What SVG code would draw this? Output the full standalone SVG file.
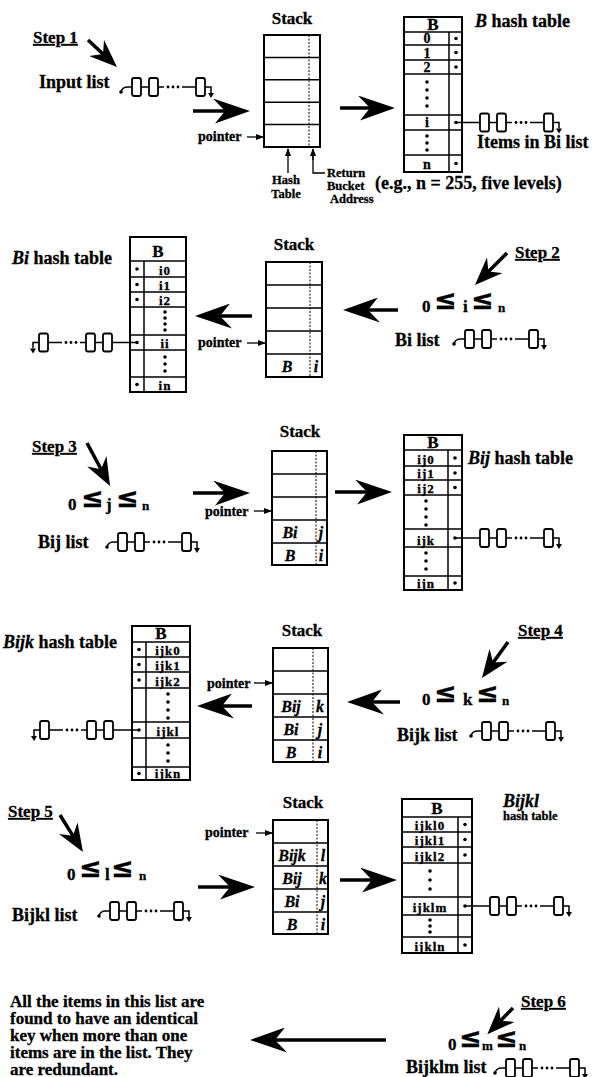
<svg xmlns="http://www.w3.org/2000/svg" xmlns:xlink="http://www.w3.org/1999/xlink" width="593" height="1077" viewBox="0 0 593 1077">
<style>
  text { font-family: "Liberation Serif", "Times New Roman", serif; font-weight: bold; fill: #000; stroke: #000; stroke-width: 0.3px; }
  .lbl { font-size: 18px; }
  .step { font-size: 17px; text-decoration: underline; }
  .ttl { font-size: 17px; text-anchor: middle; }
  .ptr { font-size: 14px; }
  .sm { font-size: 12.5px; }
  .hdr { font-size: 17px; text-anchor: middle; }
  .cell { font-size: 14px; text-anchor: middle; }
  .cellw { font-size: 13px; text-anchor: middle; letter-spacing: 1px; }
  .stk { font-size: 16px; font-style: italic; text-anchor: middle; }
  .it { font-style: italic; }
  .d { font-size: 17px; }
  .le { font-family: "DejaVu Sans", sans-serif; font-size: 27px; }
  .v { font-size: 17px; }
  .n { font-size: 13px; }
  .note { font-size: 17px; }
  .frame { fill: #fff; stroke: #000; stroke-width: 2; }
  .grid { fill: none; stroke: #000; stroke-width: 1.5; }
  .dash { fill: none; stroke: #000; stroke-width: 1; stroke-dasharray: 2 1.5; }
  .box { fill: #fff; stroke: #000; stroke-width: 1.8; }
  .ln { fill: none; stroke: #000; stroke-width: 1.5; }
  .shaft { fill: none; stroke: #000; stroke-width: 3.5; }
  .tiny { fill: none; stroke: #000; stroke-width: 1.3; }
  .blk { fill: #000; }
</style>
<defs>
  <marker id="big" viewBox="0 0 37 25" refX="30" refY="12.5" markerWidth="37" markerHeight="25" markerUnits="userSpaceOnUse" orient="auto">
    <path d="M37,12.5 L0,0 L12,12.5 L2,25 Z" fill="#000"/>
  </marker>
  <marker id="stepHead" viewBox="0 0 28 22" refX="22" refY="11" markerWidth="28" markerHeight="22" markerUnits="userSpaceOnUse" orient="auto">
    <path d="M28,11 L0,0 L9,11 L0,22 Z" fill="#000"/>
  </marker>
  <marker id="sm" viewBox="0 0 8 6" refX="7" refY="3" markerWidth="8" markerHeight="6" markerUnits="userSpaceOnUse" orient="auto">
    <path d="M0,0 L8,3 L0,6 Z" fill="#000"/>
  </marker>
  <!-- linked list: three nodes with an ellipsis, terminated by a ground arrow -->
  <g id="chain">
    <path class="ln" d="M9,0 H17 M26,0 H32 M50,0 H64 M73,0 H79 V6"/>
    <rect class="box" x="0" y="-9" width="9" height="18" rx="2"/>
    <rect class="box" x="17" y="-9" width="9" height="18" rx="2"/>
    <rect class="box" x="64" y="-9" width="9" height="18" rx="2"/>
    <circle class="blk" cx="36" cy="0" r="1.4"/>
    <circle class="blk" cx="41" cy="0" r="1.4"/>
    <circle class="blk" cx="46" cy="0" r="1.4"/>
    <path class="blk" d="M76,6 L82,6 L79,11 Z"/>
  </g>
  <!-- list head pointer hook -->
  <g id="inlist">
    <path class="ln" d="M-11,5 Q-10,0 -4,0 H0"/>
    <circle class="blk" cx="-11" cy="5" r="1.8"/>
    <use xlink:href="#chain"/>
  </g>
</defs>

<!-- ===== connectors ===== -->
<g id="connectors">
  <!-- step arrows -->
  <line class="shaft" x1="88" y1="40" x2="112.6" y2="62.9" marker-end="url(#stepHead)"/>
  <line class="shaft" x1="507" y1="253" x2="479.2" y2="280.8" marker-end="url(#stepHead)"/>
  <line class="shaft" x1="87" y1="443" x2="107.2" y2="480.7" marker-end="url(#stepHead)"/>
  <line class="shaft" x1="508" y1="642" x2="485.5" y2="673.1" marker-end="url(#stepHead)"/>
  <line class="shaft" x1="60" y1="815" x2="79.8" y2="846.9" marker-end="url(#stepHead)"/>
  <line class="shaft" x1="513" y1="1008" x2="491.5" y2="1030" marker-end="url(#stepHead)"/>
  <!-- flow arrows -->
  <line class="shaft" x1="193" y1="111" x2="243" y2="111" marker-end="url(#big)"/>
  <line class="shaft" x1="340" y1="108" x2="388" y2="108" marker-end="url(#big)"/>
  <line class="shaft" x1="398" y1="310" x2="350" y2="310" marker-end="url(#big)"/>
  <line class="shaft" x1="252" y1="316" x2="202" y2="316" marker-end="url(#big)"/>
  <line class="shaft" x1="193" y1="493" x2="243" y2="493" marker-end="url(#big)"/>
  <line class="shaft" x1="335" y1="492" x2="385" y2="492" marker-end="url(#big)"/>
  <line class="shaft" x1="400" y1="702" x2="354" y2="702" marker-end="url(#big)"/>
  <line class="shaft" x1="252" y1="706" x2="204" y2="706" marker-end="url(#big)"/>
  <line class="shaft" x1="198" y1="887" x2="248" y2="887" marker-end="url(#big)"/>
  <line class="shaft" x1="340" y1="880" x2="390" y2="880" marker-end="url(#big)"/>
  <line class="shaft" x1="386" y1="1040" x2="257" y2="1040" marker-end="url(#big)"/>
  <!-- stack pointers -->
  <line class="tiny" x1="247" y1="137" x2="263" y2="137" marker-end="url(#sm)"/>
  <line class="tiny" x1="247" y1="343" x2="265" y2="343" marker-end="url(#sm)"/>
  <line class="tiny" x1="254" y1="511" x2="271" y2="511" marker-end="url(#sm)"/>
  <line class="tiny" x1="254" y1="683" x2="272" y2="683" marker-end="url(#sm)"/>
  <line class="tiny" x1="256" y1="833" x2="272" y2="833" marker-end="url(#sm)"/>
  <!-- hash table / return bucket address indicators -->
  <line class="tiny" x1="288" y1="173" x2="288" y2="149" marker-end="url(#sm)"/>
  <path class="tiny" d="M325,173 H313 V150"/>
  <line class="tiny" x1="313" y1="160" x2="313" y2="149" marker-end="url(#sm)"/>
</g>

<!-- ===== Step 1 ===== -->
<g id="step1">
  <text class="step" x="33" y="43">Step 1</text>
  <text class="lbl" x="39" y="88">Input list</text>
  <use xlink:href="#inlist" x="132" y="87"/>
  <text class="ptr" x="198" y="141">pointer</text>
  <text class="sm" x="286" y="184" text-anchor="middle">Hash</text>
  <text class="sm" x="286" y="198" text-anchor="middle">Table</text>
  <text class="sm" x="327" y="177">Return</text>
  <text class="sm" x="327" y="190">Bucket</text>
  <text class="sm" x="330" y="203">Address</text>
  <text class="lbl" x="375" y="189">(e.g., n = 255, five levels)</text>
</g>
<g id="stack1">
  <text class="ttl" x="292" y="24">Stack</text>
  <rect class="frame" x="264" y="35" width="56" height="112"/>
  <path class="grid" d="M264,57.4H320 M264,79.8H320 M264,102.2H320 M264,124.6H320"/>
  <line class="dash" x1="309" y1="35" x2="309" y2="147"/>
</g>
<g id="table-b">
  <rect class="frame" x="404" y="17" width="58" height="155"/>
  <path class="grid" d="M404,32H462 M404,45H462 M404,60H462 M404,74H462 M404,115H462 M404,130H462 M404,155H462 M449,32V172"/>
  <text class="hdr" x="433" y="30">B</text>
  <text class="cell" x="427" y="43">0</text>
  <text class="cell" x="427" y="58">1</text>
  <text class="cell" x="427" y="72">2</text>
  <text class="cell" x="427" y="127">i</text>
  <text class="cell" x="427" y="169">n</text>
  <g class="blk">
    <circle cx="456" cy="38.5" r="1.8"/><circle cx="456" cy="52.5" r="1.8"/><circle cx="456" cy="67" r="1.8"/>
    <circle cx="456" cy="122.5" r="1.8"/><circle cx="456" cy="163.5" r="1.8"/>
    <circle cx="427" cy="82" r="1.8"/><circle cx="427" cy="90" r="1.8"/><circle cx="427" cy="98" r="1.8"/><circle cx="427" cy="106" r="1.8"/>
    <circle cx="427" cy="136" r="1.8"/><circle cx="427" cy="143" r="1.8"/><circle cx="427" cy="150" r="1.8"/>
  </g>
  <text class="lbl" x="475" y="27"><tspan class="it">B</tspan> hash table</text>
  <path class="ln" d="M456,122.5 H480"/>
  <use xlink:href="#chain" x="480" y="122.5"/>
  <text class="lbl" x="477" y="148">Items in Bi list</text>
</g>

<!-- ===== Step 2 ===== -->
<g id="step2">
  <text class="step" x="515" y="258">Step 2</text>
  <text x="0" y="312"><tspan class="d" x="422">0</tspan><tspan class="le" x="434" y="309">≤</tspan><tspan class="v" x="463" y="312">i</tspan><tspan class="le" x="471" y="309">≤</tspan><tspan class="n" x="498" y="312">n</tspan></text>
  <text class="lbl" x="395" y="346">Bi list</text>
  <use xlink:href="#inlist" x="465" y="339"/>
  <text class="ptr" x="198" y="347">pointer</text>
</g>
<g id="stack2">
  <text class="ttl" x="294" y="250">Stack</text>
  <rect class="frame" x="266" y="262" width="56" height="115"/>
  <path class="grid" d="M266,285H322 M266,308H322 M266,331H322 M266,354H322"/>
  <line class="dash" x1="310" y1="262" x2="310" y2="377"/>
  <text class="stk" x="287" y="372">B</text>
  <text class="stk" x="316" y="372">i</text>
</g>
<g id="table-bi">
  <text class="lbl" x="12" y="264"><tspan class="it">Bi</tspan> hash table</text>
  <rect class="frame" x="130" y="237" width="56" height="155"/>
  <path class="grid" d="M130,261H186 M130,277H186 M130,292H186 M130,307H186 M130,335H186 M130,350H186 M130,377H186 M144,261V392"/>
  <text class="hdr" x="158" y="257">B</text>
  <text class="cellw" x="165" y="275">i0</text>
  <text class="cellw" x="165" y="290">i1</text>
  <text class="cellw" x="165" y="305">i2</text>
  <text class="cellw" x="165" y="348">ii</text>
  <text class="cellw" x="165" y="390">in</text>
  <g class="blk">
    <circle cx="137" cy="269" r="1.8"/><circle cx="137" cy="284.5" r="1.8"/><circle cx="137" cy="299.5" r="1.8"/>
    <circle cx="137" cy="342.5" r="1.8"/><circle cx="137" cy="384.5" r="1.8"/>
    <circle cx="165" cy="312" r="1.8"/><circle cx="165" cy="318" r="1.8"/><circle cx="165" cy="324" r="1.8"/><circle cx="165" cy="330" r="1.8"/>
    <circle cx="165" cy="357" r="1.8"/><circle cx="165" cy="364" r="1.8"/><circle cx="165" cy="371" r="1.8"/>
  </g>
  <path class="ln" d="M137,342.5 H112"/>
  <use xlink:href="#chain" transform="translate(112,342.5) scale(-1,1)"/>
</g>

<!-- ===== Step 3 ===== -->
<g id="step3">
  <text class="step" x="32" y="452">Step 3</text>
  <text x="0" y="510"><tspan class="d" x="68">0</tspan><tspan class="le" x="81" y="507">≤</tspan><tspan class="v" x="106" y="510">j</tspan><tspan class="le" x="116" y="507">≤</tspan><tspan class="n" x="142" y="510">n</tspan></text>
  <text class="lbl" x="38" y="548">Bij list</text>
  <use xlink:href="#inlist" x="118" y="542"/>
  <text class="ptr" x="205" y="516">pointer</text>
</g>
<g id="stack3">
  <text class="ttl" x="300" y="437">Stack</text>
  <rect class="frame" x="272" y="451" width="55" height="114"/>
  <path class="grid" d="M272,474H327 M272,497H327 M272,520H327 M272,543H327"/>
  <line class="dash" x1="316" y1="451" x2="316" y2="565"/>
  <text class="stk" x="290" y="538">Bi</text>
  <text class="stk" x="321" y="538">j</text>
  <text class="stk" x="290" y="561">B</text>
  <text class="stk" x="321" y="561">i</text>
</g>
<g id="table-bij">
  <rect class="frame" x="404" y="435" width="58" height="155"/>
  <path class="grid" d="M404,450H462 M404,466H462 M404,480H462 M404,495H462 M404,529H462 M404,547H462 M404,576H462 M448,450V590"/>
  <text class="hdr" x="433" y="448">B</text>
  <text class="cellw" x="426" y="464">ij0</text>
  <text class="cellw" x="426" y="478">ij1</text>
  <text class="cellw" x="426" y="493">ij2</text>
  <text class="cellw" x="426" y="545">ijk</text>
  <text class="cellw" x="426" y="588">ijn</text>
  <g class="blk">
    <circle cx="455" cy="458" r="1.8"/><circle cx="455" cy="473" r="1.8"/><circle cx="455" cy="487.5" r="1.8"/>
    <circle cx="455" cy="538" r="1.8"/><circle cx="455" cy="583" r="1.8"/>
    <circle cx="426" cy="501" r="1.8"/><circle cx="426" cy="509" r="1.8"/><circle cx="426" cy="517" r="1.8"/><circle cx="426" cy="525" r="1.8"/>
    <circle cx="426" cy="553" r="1.8"/><circle cx="426" cy="561" r="1.8"/><circle cx="426" cy="569" r="1.8"/>
  </g>
  <text class="lbl" x="468" y="464"><tspan class="it">Bij</tspan> hash table</text>
  <path class="ln" d="M455,538 H480"/>
  <use xlink:href="#chain" x="480" y="538"/>
</g>

<!-- ===== Step 4 ===== -->
<g id="step4">
  <text class="step" x="518" y="636">Step 4</text>
  <text x="0" y="705"><tspan class="d" x="422">0</tspan><tspan class="le" x="434" y="702">≤</tspan><tspan class="v" x="463" y="705">k</tspan><tspan class="le" x="476" y="702">≤</tspan><tspan class="n" x="502" y="705">n</tspan></text>
  <text class="lbl" x="397" y="741">Bijk list</text>
  <use xlink:href="#inlist" x="482" y="731"/>
  <text class="ptr" x="207" y="688">pointer</text>
</g>
<g id="stack4">
  <text class="ttl" x="302" y="636">Stack</text>
  <rect class="frame" x="273" y="648" width="55" height="114"/>
  <path class="grid" d="M273,671H328 M273,694H328 M273,717H328 M273,740H328"/>
  <line class="dash" x1="313" y1="648" x2="313" y2="762"/>
  <text class="stk" x="291" y="712">Bij</text>
  <text class="stk" x="320" y="712">k</text>
  <text class="stk" x="291" y="735">Bi</text>
  <text class="stk" x="320" y="735">j</text>
  <text class="stk" x="291" y="758">B</text>
  <text class="stk" x="320" y="758">i</text>
</g>
<g id="table-bijk">
  <text class="lbl" x="3" y="648"><tspan class="it">Bijk</tspan> hash table</text>
  <rect class="frame" x="132" y="626" width="58" height="154"/>
  <path class="grid" d="M132,642H190 M132,657H190 M132,672H190 M132,688H190 M132,722H190 M132,738H190 M132,767H190 M146,642V780"/>
  <text class="hdr" x="161" y="639">B</text>
  <text class="cellw" x="168" y="655">ijk0</text>
  <text class="cellw" x="168" y="670">ijk1</text>
  <text class="cellw" x="168" y="686">ijk2</text>
  <text class="cellw" x="168" y="736">ijkl</text>
  <text class="cellw" x="168" y="778">ijkn</text>
  <g class="blk">
    <circle cx="139" cy="649.5" r="1.8"/><circle cx="139" cy="664.5" r="1.8"/><circle cx="139" cy="680" r="1.8"/>
    <circle cx="139" cy="730" r="1.8"/><circle cx="139" cy="773.5" r="1.8"/>
    <circle cx="168" cy="694" r="1.8"/><circle cx="168" cy="702" r="1.8"/><circle cx="168" cy="710" r="1.8"/><circle cx="168" cy="718" r="1.8"/>
    <circle cx="168" cy="745" r="1.8"/><circle cx="168" cy="753" r="1.8"/><circle cx="168" cy="761" r="1.8"/>
  </g>
  <path class="ln" d="M139,730 H113"/>
  <use xlink:href="#chain" transform="translate(113,730) scale(-1,1)"/>
</g>

<!-- ===== Step 5 ===== -->
<g id="step5">
  <text class="step" x="8" y="817">Step 5</text>
  <text x="0" y="880"><tspan class="d" x="67">0</tspan><tspan class="le" x="79" y="877">≤</tspan><tspan class="v" x="105" y="880">l</tspan><tspan class="le" x="111" y="877">≤</tspan><tspan class="n" x="139" y="880">n</tspan></text>
  <text class="lbl" x="12" y="921">Bijkl list</text>
  <use xlink:href="#inlist" x="110" y="911"/>
  <text class="ptr" x="205" y="837">pointer</text>
</g>
<g id="stack5">
  <text class="ttl" x="303" y="808">Stack</text>
  <rect class="frame" x="273" y="820" width="55" height="114"/>
  <path class="grid" d="M273,843H328 M273,866H328 M273,889H328 M273,912H328"/>
  <line class="dash" x1="317" y1="820" x2="317" y2="934"/>
  <text class="stk" x="292" y="861">Bijk</text>
  <text class="stk" x="323" y="861">l</text>
  <text class="stk" x="292" y="884">Bij</text>
  <text class="stk" x="323" y="884">k</text>
  <text class="stk" x="292" y="907">Bi</text>
  <text class="stk" x="323" y="907">j</text>
  <text class="stk" x="292" y="930">B</text>
  <text class="stk" x="323" y="930">i</text>
</g>
<g id="table-bijkl">
  <rect class="frame" x="402" y="799" width="70" height="154"/>
  <path class="grid" d="M402,817H472 M402,832H472 M402,847H472 M402,863H472 M402,897H472 M402,915H472 M402,937H472 M458,817V953"/>
  <text class="hdr" x="437" y="814">B</text>
  <text class="cellw" x="430" y="830">ijkl0</text>
  <text class="cellw" x="430" y="845">ijkl1</text>
  <text class="cellw" x="430" y="861">ijkl2</text>
  <text class="cellw" x="430" y="912">ijklm</text>
  <text class="cellw" x="430" y="951">ijkln</text>
  <g class="blk">
    <circle cx="465" cy="824.5" r="1.8"/><circle cx="465" cy="839.5" r="1.8"/><circle cx="465" cy="855" r="1.8"/>
    <circle cx="465" cy="906" r="1.8"/><circle cx="465" cy="945" r="1.8"/>
    <circle cx="430" cy="871" r="1.8"/><circle cx="430" cy="880" r="1.8"/><circle cx="430" cy="889" r="1.8"/>
    <circle cx="430" cy="920" r="1.8"/><circle cx="430" cy="926" r="1.8"/><circle cx="430" cy="932" r="1.8"/>
  </g>
  <text class="lbl it" x="503" y="807">Bijkl</text>
  <text class="sm" x="503" y="820">hash table</text>
  <path class="ln" d="M465,906 H490"/>
  <use xlink:href="#chain" x="490" y="906"/>
</g>

<!-- ===== Step 6 ===== -->
<g id="step6">
  <text class="step" x="521" y="1007">Step 6</text>
  <text x="0" y="1050"><tspan class="d" x="448">0</tspan><tspan class="le" x="459" y="1047">≤</tspan><tspan class="n" x="482" y="1050">m</tspan><tspan class="le" x="495" y="1047">≤</tspan><tspan class="n" x="519" y="1050">n</tspan></text>
  <text class="lbl" x="406" y="1073">Bijklm list</text>
  <use xlink:href="#inlist" x="506" y="1068"/>
</g>
<g id="note">
  <text class="note" x="10" y="1007">All the items in this list are</text>
  <text class="note" x="10" y="1024">found to have an identical</text>
  <text class="note" x="10" y="1041">key when more than one</text>
  <text class="note" x="10" y="1058">items are in the list.  They</text>
  <text class="note" x="10" y="1075">are redundant.</text>
</g>
</svg>
